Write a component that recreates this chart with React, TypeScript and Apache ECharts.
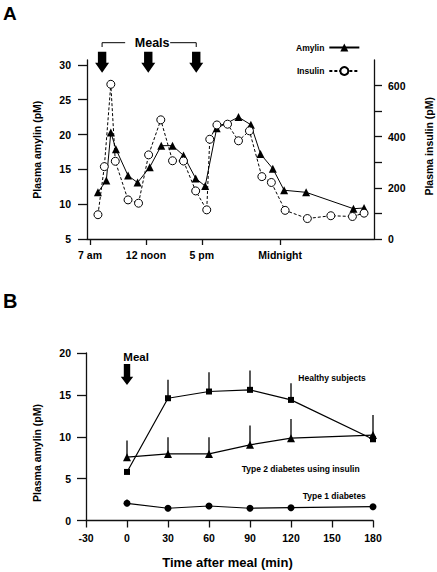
import React, { useEffect, useRef } from 'react';
import * as echarts from 'echarts';

// ---------- Panel A data (time of day in hours, 24 = midnight) ----------
const amylinTime = [7.71, 8.46, 8.86, 9.32, 10.4, 11.25, 12.34, 13.37, 14.38, 15.36, 16.45, 17.3, 18.33, 20.28, 21.39, 22.25, 23.35, 24.36, 26.33, 30.56, 31.51];
const amylinValues = [11.7, 13.4, 20.3, 17.9, 14.1, 13.1, 15.3, 18.4, 18.4, 17.0, 13.7, 12.6, 20.9, 22.5, 21.4, 17.2, 15.1, 12.0, 11.7, 9.35, 9.45];
const insulinTime = [7.71, 8.28, 8.86, 9.26, 10.4, 11.34, 12.24, 13.33, 14.38, 15.36, 16.45, 17.44, 17.71, 18.35, 19.3, 20.28, 21.26, 22.37, 23.22, 24.45, 26.44, 28.54, 30.47, 31.51];
const insulinValues = [95, 283, 605, 304, 153, 140, 329, 466, 306, 305, 188, 114, 390, 446, 449, 384, 423, 244, 221, 112, 80, 91, 88, 101];
const mealTimes = [8.08, 12.21, 16.5];
const timeTickValues = [7, 12, 17, 24];
const timeTickLabels = ['7 am', '12 noon', '5 pm', 'Midnight'];
const amylinTicks = [5, 10, 15, 20, 25, 30];
const insulinTicks = [0, 100, 200, 300, 400, 500, 600];
const insulinLabelTicks = [0, 200, 400, 600];

// ---------- Panel B data (minutes after meal) ----------
const minutes = [0, 30, 60, 90, 120, 180];
const healthy = [5.8, 14.6, 15.4, 15.6, 14.4, 9.7];
const healthySem = [0, 2.2, 2.3, 2.3, 2.0, 0];
const type2 = [7.56, 7.95, 7.95, 9.03, 9.83, 10.2];
const type2Sem = [2.0, 2.0, 2.0, 2.3, 2.3, 2.4];
const type1 = [2.05, 1.46, 1.73, 1.46, 1.53, 1.65];
const type1Sem = [0.45, 0.2, 0.2, 0.2, 0.2, 0.2];

const FONT = '"Liberation Sans", Arial, Helvetica, sans-serif';
const BLACK = '#000';

const labelStyle = { color: BLACK, fontFamily: FONT, fontWeight: 'bold' as const, fontSize: 10.5 };
const axisLineStyle = { show: true, onZero: false, lineStyle: { color: '#111', width: 1.3 } };

function errorSeries(means: number[], sems: number[]) {
  return {
    type: 'custom',
    xAxisIndex: 1,
    yAxisIndex: 2,
    z: 1,
    silent: true,
    data: minutes.map((m, i) => [m, means[i], means[i] + sems[i]]),
    encode: { x: 0, y: 1 },
    renderItem: (_p: any, api: any) => {
      const a = api.coord([api.value(0), api.value(1)]);
      const b = api.coord([api.value(0), api.value(2)]);
      return {
        type: 'line',
        shape: { x1: a[0], y1: a[1], x2: b[0], y2: b[1] },
        style: { stroke: BLACK, lineWidth: 1.3 },
      };
    },
  };
}

function arrow(cx: number, top: number, headTop: number, tip: number, sw: number, hw: number) {
  return {
    type: 'polygon',
    shape: {
      points: [
        [cx - sw, top], [cx + sw, top], [cx + sw, headTop], [cx + hw, headTop],
        [cx, tip], [cx - hw, headTop], [cx - sw, headTop],
      ],
    },
    style: { fill: BLACK },
    silent: true,
  };
}

function txt(text: string, x: number, y: number, size: number, align = 'left', rotation = 0) {
  return {
    type: 'text',
    x, y, rotation,
    silent: true,
    style: {
      text, fill: BLACK, font: `bold ${size}px ${FONT}`,
      textAlign: align, textVerticalAlign: 'middle',
    },
  };
}

export default function App() {
  const ref = useRef<HTMLDivElement>(null);

  useEffect(() => {
    if (!ref.current) return;
    const chart = echarts.init(ref.current, null, { renderer: 'svg' });

    const option: any = {
      animation: false,
      backgroundColor: '#fff',
      textStyle: { fontFamily: FONT },
      legend: {
        data: ['Amylin', 'Insulin'],
        orient: 'vertical',
        align: 'right',
        left: 296,
        top: 43,
        padding: 0,
        itemWidth: 30,
        itemHeight: 10,
        itemGap: 14,
        selectedMode: false,
        textStyle: { color: BLACK, fontFamily: FONT, fontWeight: 'bold', fontSize: 8.5 },
      },
      grid: [
        { left: 87, top: 60, width: 287, height: 179 },
        { left: 86, top: 353, width: 287, height: 167.5 },
      ],
      xAxis: [
        {
          type: 'value', gridIndex: 0, min: 6.73, max: 32.4,
          splitLine: { show: false },
          axisLine: axisLineStyle,
          axisTick: { show: true, length: 6, customValues: timeTickValues, lineStyle: { color: '#111', width: 1.3 } },
          axisLabel: {
            ...labelStyle, margin: 10, customValues: timeTickValues,
            formatter: (v: number) => {
              const i = timeTickValues.indexOf(v);
              return i >= 0 ? timeTickLabels[i] : '';
            },
          },
        },
        {
          type: 'value', gridIndex: 1, min: -30, max: 180, interval: 30,
          splitLine: { show: false },
          axisLine: axisLineStyle,
          axisTick: { show: true, length: 7, lineStyle: { color: '#111', width: 1.3 } },
          axisLabel: { ...labelStyle, margin: 12 },
        },
      ],
      yAxis: [
        {
          type: 'value', gridIndex: 0, min: 5, max: 30.7,
          splitLine: { show: false },
          axisLine: axisLineStyle,
          axisTick: { show: true, length: 9, customValues: amylinTicks, lineStyle: { color: '#111', width: 1.3 } },
          axisLabel: { ...labelStyle, margin: 16, customValues: amylinTicks },
        },
        {
          type: 'value', gridIndex: 0, position: 'right', min: 0, max: 700,
          splitLine: { show: false },
          axisLine: axisLineStyle,
          axisTick: { show: true, length: 8, customValues: insulinTicks, lineStyle: { color: '#111', width: 1.3 } },
          axisLabel: { ...labelStyle, margin: 14, customValues: insulinLabelTicks },
        },
        {
          type: 'value', gridIndex: 1, min: 0, max: 20, interval: 5,
          splitLine: { show: false },
          axisLine: axisLineStyle,
          axisTick: { show: true, length: 9, lineStyle: { color: '#111', width: 1.3 } },
          axisLabel: { ...labelStyle, margin: 15 },
        },
      ],
      series: [
        {
          name: 'Amylin', type: 'line', xAxisIndex: 0, yAxisIndex: 0,
          data: amylinTime.map((t, i) => [t, amylinValues[i]]),
          symbol: 'triangle', symbolSize: 8,
          itemStyle: { color: BLACK },
          lineStyle: { color: BLACK, width: 1 },
          z: 3,
        },
        {
          name: 'Insulin', type: 'line', xAxisIndex: 0, yAxisIndex: 1,
          data: insulinTime.map((t, i) => [t, insulinValues[i]]),
          symbol: 'circle', symbolSize: 8,
          itemStyle: { color: '#fff', borderColor: BLACK, borderWidth: 1 },
          lineStyle: { color: BLACK, width: 1, type: [3, 2] },
          z: 4,
        },
        errorSeries(healthy, healthySem),
        errorSeries(type2, type2Sem),
        errorSeries(type1, type1Sem),
        {
          name: 'Healthy subjects', type: 'line', xAxisIndex: 1, yAxisIndex: 2,
          data: minutes.map((m, i) => [m, healthy[i]]),
          symbol: 'rect', symbolSize: 6,
          itemStyle: { color: BLACK }, lineStyle: { color: BLACK, width: 1.2 }, z: 3,
        },
        {
          name: 'Type 2 diabetes using insulin', type: 'line', xAxisIndex: 1, yAxisIndex: 2,
          data: minutes.map((m, i) => [m, type2[i]]),
          symbol: 'triangle', symbolSize: 8,
          itemStyle: { color: BLACK }, lineStyle: { color: BLACK, width: 1.2 }, z: 3,
        },
        {
          name: 'Type 1 diabetes', type: 'line', xAxisIndex: 1, yAxisIndex: 2,
          data: minutes.map((m, i) => [m, type1[i]]),
          symbol: 'circle', symbolSize: 7,
          itemStyle: { color: BLACK }, lineStyle: { color: BLACK, width: 1.2 }, z: 3,
        },
      ],
    };

    chart.setOption(option);

    // annotations positioned through the axes
    const mealX = mealTimes.map((t) => chart.convertToPixel({ xAxisIndex: 0, yAxisIndex: 0 } as any, [t, 10])[0]);
    const gridTopA = 60;
    const arrowsA = mealX.map((x) => arrow(x, gridTopA - 8.3, gridTopA + 2.7, gridTopA + 12.7, 4.2, 7));
    const first = mealX[0];
    const last = mealX[mealX.length - 1];
    const mid = (first + last) / 2 + 3;
    const bracketY = 42.7;
    const mealB = chart.convertToPixel({ xAxisIndex: 1, yAxisIndex: 2 } as any, [0, 0]);
    const bx = mealB[0];

    chart.setOption({
      graphic: [
        txt('A', 3, 13.5, 19),
        txt('B', 3, 301, 20),
        ...arrowsA,
        {
          type: 'polyline', silent: true,
          shape: { points: [[first, bracketY + 4.3], [first, bracketY], [mid - 27, bracketY]] },
          style: { stroke: BLACK, lineWidth: 1, fill: null },
        },
        {
          type: 'polyline', silent: true,
          shape: { points: [[mid + 18, bracketY], [last, bracketY], [last, bracketY + 4.3]] },
          style: { stroke: BLACK, lineWidth: 1, fill: null },
        },
        txt('Meals', mid, bracketY, 12.5, 'center'),
        arrow(bx, 364, 376.7, 385, 3.2, 6.2),
        txt('Meal', bx - 3.7, 356.7, 11.5, 'left'),
        txt('Plasma amylin (pM)', 37, 149.7, 10.5, 'center', Math.PI / 2),
        txt('Plasma insulin (pM)', 429, 146.3, 10.5, 'center', Math.PI / 2),
        txt('Plasma amylin (pM)', 37, 453, 10.5, 'center', Math.PI / 2),
        txt('Time after meal (min)', 227.5, 562.7, 13, 'center'),
        txt('Healthy subjects', 298.3, 378.3, 8.5, 'left'),
        txt('Type 2 diabetes using insulin', 241.7, 469, 8.5, 'left'),
        txt('Type 1 diabetes', 302.7, 496, 8.5, 'left'),
      ],
    });

    return () => chart.dispose();
  }, []);

  return (
    <div
      ref={ref}
      style={{ position: 'fixed', left: 0, top: 0, width: 437, height: 572, background: '#fff' }}
    />
  );
}
